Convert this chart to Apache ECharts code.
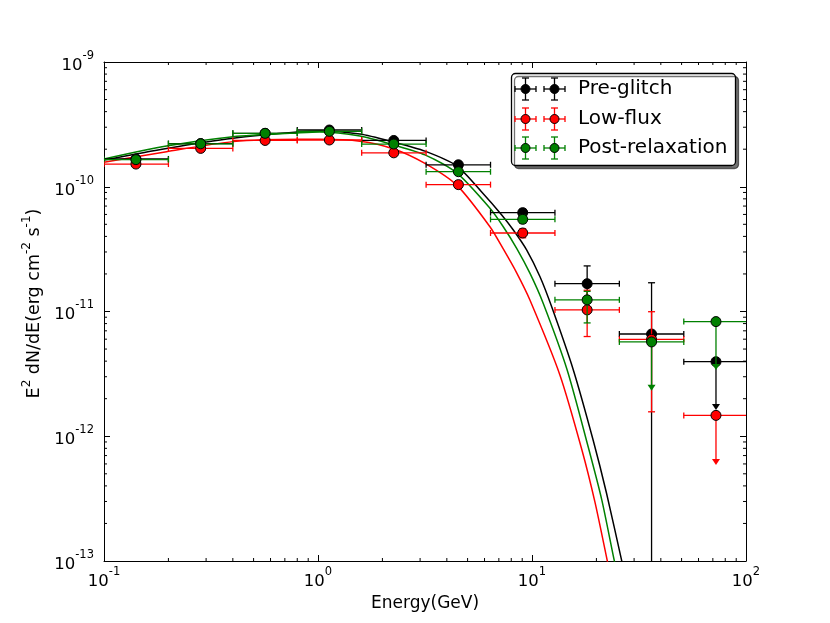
<!DOCTYPE html>
<html>
<head>
<meta charset="utf-8">
<title>Pulsar SED</title>
<script src="https://cdn.jsdelivr.net/npm/echarts@6/dist/echarts.min.js"></script>
<style>
html,body{margin:0;padding:0;background:#fff;}
#main{width:830px;height:623px;}
</style>
</head>
<body>
<div id="main"></div>
<script>
// energy bins (GeV)
var binLo = [0.1, 0.2, 0.4, 0.8, 1.6, 3.2, 6.4, 12.8, 25.6, 51.2];
var binHi = [0.2, 0.4, 0.8, 1.6, 3.2, 6.4, 12.8, 25.6, 51.2, 102.4];
var binE  = [0.141, 0.283, 0.566, 1.13, 2.26, 4.53, 9.05, 18.1, 36.2, 72.4];

// Pre-glitch
var preFlux  = [1.67e-10, 2.22e-10, 2.68e-10, 2.85e-10, 2.35e-10, 1.50e-10, 6.2e-11, 1.67e-11, 6.6e-12, 3.96e-12];
var preLow   = [1.61e-10, 2.15e-10, 2.60e-10, 2.75e-10, 2.25e-10, 1.42e-10, 5.8e-11, 1.02e-11, 0, null];
var preHigh  = [1.73e-10, 2.29e-10, 2.76e-10, 2.95e-10, 2.45e-10, 1.58e-10, 6.6e-11, 2.32e-11, 1.70e-11, null];
var preLimit = [null, null, null, null, null, null, null, null, null, 1.62e-12];

// Low-flux
var lowFlux  = [1.52e-10, 2.03e-10, 2.35e-10, 2.37e-10, 1.87e-10, 1.04e-10, 4.26e-11, 1.03e-11, 5.98e-12, 1.47e-12];
var lowLow   = [1.46e-10, 1.96e-10, 2.27e-10, 2.27e-10, 1.78e-10, 0.97e-10, 3.9e-11, 6.3e-12, 1.57e-12, null];
var lowHigh  = [1.58e-10, 2.10e-10, 2.43e-10, 2.47e-10, 1.96e-10, 1.11e-10, 4.6e-11, 1.48e-11, 9.96e-12, null];
var lowLimit = [null, null, null, null, null, null, null, null, null, 5.89e-13];

// Post-relaxation
var postFlux  = [1.65e-10, 2.21e-10, 2.68e-10, 2.78e-10, 2.20e-10, 1.32e-10, 5.48e-11, 1.24e-11, 5.7e-12, 8.3e-12];
var postLow   = [1.59e-10, 2.14e-10, 2.60e-10, 2.68e-10, 2.11e-10, 1.25e-10, 5.1e-11, 8.1e-12, null, null];
var postHigh  = [1.71e-10, 2.28e-10, 2.76e-10, 2.88e-10, 2.29e-10, 1.39e-10, 5.9e-11, 1.45e-11, null, null];
var postLimit = [null, null, null, null, null, null, null, null, 2.32e-12, 3.40e-12];

// fitted model curves
var preCurveE = [0.1, 0.196, 0.401, 0.824, 1.02, 1.57, 2.26, 3.16, 4.45, 5.82, 7.22, 8.18, 9.45, 10.9, 12.36, 15.6, 19.3, 22.3, 26.2, 30];
var preCurveF = [1.64e-10, 2.03e-10, 2.45e-10, 2.76e-10, 2.80e-10, 2.65e-10, 2.28e-10, 1.93e-10, 1.47e-10, 9.08e-11, 5.94e-11, 4.50e-11, 3.11e-11, 1.90e-11, 1.09e-11, 3.40e-12, 9.33e-13, 3.49e-13, 1.02e-13, 3.5e-14];
var lowCurveE = [0.1, 0.196, 0.401, 0.824, 1.02, 1.57, 2.26, 3.16, 4.45, 6.36, 7.34, 8.48, 9.79, 13.5, 17.1, 19.7, 22.6, 25.8];
var lowCurveF = [1.57e-10, 1.91e-10, 2.30e-10, 2.40e-10, 2.40e-10, 2.32e-10, 2.01e-10, 1.54e-10, 1.03e-10, 4.78e-11, 3.17e-11, 2.04e-11, 1.23e-11, 3.1e-12, 7.8e-13, 2.95e-13, 9.6e-14, 3.2e-14];
var postCurveE = [0.1, 0.196, 0.401, 0.824, 1.02, 1.57, 2.26, 3.16, 4.45, 6.36, 7.34, 8.48, 9.79, 11.29, 14.6, 18.3, 21.2, 24.2, 27.8];
var postCurveF = [1.67e-10, 2.12e-10, 2.52e-10, 2.71e-10, 2.75e-10, 2.55e-10, 2.16e-10, 1.80e-10, 1.29e-10, 6.72e-11, 4.78e-11, 3.21e-11, 2.02e-11, 1.16e-11, 3.40e-12, 8.24e-13, 3.08e-13, 1.02e-13, 3.36e-14];

// minor tick values
var xMinor = [0.2, 0.3, 0.4, 0.5, 0.6, 0.7, 0.8, 0.9, 2, 3, 4, 5, 6, 7, 8, 9, 20, 30, 40, 50, 60, 70, 80, 90];
var yMinor = [2e-13, 3e-13, 4e-13, 5e-13, 6e-13, 7e-13, 8e-13, 9e-13,
              2e-12, 3e-12, 4e-12, 5e-12, 6e-12, 7e-12, 8e-12, 9e-12,
              2e-11, 3e-11, 4e-11, 5e-11, 6e-11, 7e-11, 8e-11, 9e-11,
              2e-10, 3e-10, 4e-10, 5e-10, 6e-10, 7e-10, 8e-10, 9e-10];

var legendNames = ['Pre-glitch', 'Low-flux', 'Post-relaxation'];
var colors = ['#000000', '#ff0000', '#008000'];
var FONT = 'DejaVu Sans';

var sets = [
	{name: legendNames[0], color: colors[0], flux: preFlux, lo: preLow, hi: preHigh, lim: preLimit, cE: preCurveE, cF: preCurveF},
	{name: legendNames[1], color: colors[1], flux: lowFlux, lo: lowLow, hi: lowHigh, lim: lowLimit, cE: lowCurveE, cF: lowCurveF},
	{name: legendNames[2], color: colors[2], flux: postFlux, lo: postLow, hi: postHigh, lim: postLimit, cE: postCurveE, cF: postCurveF}
];

function pairs(a, b){
	return a.map(function(v, i){ return [v, b[i]]; });
}

function ln(x1, y1, x2, y2, color){
	return {type: 'line', shape: {x1: x1, y1: y1, x2: x2, y2: y2}, style: {stroke: color, lineWidth: 1.3}};
}

// error bars, caps and upper-limit arrows
function errRender(set){
	return function(params, api){
		var i = params.dataIndex;
		var cs = params.coordSys;
		var c = api.coord([binE[i], set.flux[i]]);
		var l = api.coord([binLo[i], set.flux[i]]);
		var r = api.coord([binHi[i], set.flux[i]]);
		var col = set.color;
		var kids = [];
		kids.push(ln(l[0], c[1], r[0], c[1], col));
		kids.push(ln(l[0], c[1] - 3, l[0], c[1] + 3, col));
		kids.push(ln(r[0], c[1] - 3, r[0], c[1] + 3, col));
		if (set.lim[i] != null) {
			var e = api.coord([binE[i], set.lim[i]]);
			kids.push(ln(c[0], c[1], c[0], e[1] - 4, col));
			kids.push({type: 'polygon', shape: {points: [[c[0] - 4, e[1] - 6], [c[0] + 4, e[1] - 6], [c[0], e[1]]]},
				style: {fill: col}});
		} else {
			var top = api.coord([binE[i], set.hi[i]])[1];
			var bot = set.lo[i] > 0 ? api.coord([binE[i], set.lo[i]])[1] : cs.y + cs.height + 10;
			kids.push(ln(c[0], top, c[0], bot, col));
			kids.push(ln(c[0] - 3.5, top, c[0] + 3.5, top, col));
			kids.push(ln(c[0] - 3.5, bot, c[0] + 3.5, bot, col));
		}
		return {type: 'group', children: kids};
	};
}

var series = [];
sets.forEach(function(s, k){
	series.push({
		type: 'line', name: s.name + ' model', data: pairs(s.cE, s.cF),
		showSymbol: false, smooth: 0.25, clip: true,
		lineStyle: {color: s.color, width: 1.5}, z: 2, silent: true
	});
});
sets.forEach(function(s, k){
	series.push({
		type: 'custom', name: s.name + ' err', data: pairs(binE, s.flux),
		renderItem: errRender(s), clip: true, z: 3 + k * 2, silent: true
	});
	series.push({
		type: 'scatter', name: s.name, data: pairs(binE, s.flux),
		symbol: 'circle', symbolSize: 10, z: 4 + k * 2, silent: true,
		itemStyle: {color: s.color, borderColor: '#000', borderWidth: 1, opacity: 1}
	});
});

// minor ticks on all four sides
series.push({
	type: 'custom', data: xMinor.map(function(v){ return [v, 1e-11]; }), silent: true, z: 10,
	renderItem: function(params, api){
		var cs = params.coordSys;
		var x = api.coord([api.value(0), 1e-11])[0];
		return {type: 'group', children: [
			{type: 'line', shape: {x1: x, y1: cs.y + cs.height, x2: x, y2: cs.y + cs.height - 3}, style: {stroke: '#000', lineWidth: 1}},
			{type: 'line', shape: {x1: x, y1: cs.y, x2: x, y2: cs.y + 3}, style: {stroke: '#000', lineWidth: 1}}
		]};
	}
});
series.push({
	type: 'custom', data: yMinor.map(function(v){ return [1, v]; }), silent: true, z: 10,
	renderItem: function(params, api){
		var cs = params.coordSys;
		var y = api.coord([1, api.value(1)])[1];
		return {type: 'group', children: [
			{type: 'line', shape: {x1: cs.x, y1: y, x2: cs.x + 3, y2: y}, style: {stroke: '#000', lineWidth: 1}},
			{type: 'line', shape: {x1: cs.x + cs.width, y1: y, x2: cs.x + cs.width - 3, y2: y}, style: {stroke: '#000', lineWidth: 1}}
		]};
	}
});

function powLabel(v){
	var p = Math.round(Math.log(v) / Math.LN10);
	return '{b|10}{s|' + p + '}';
}
var powRich = {
	b: {fontSize: 16.5, fontFamily: FONT, color: '#000', lineHeight: 24, verticalAlign: 'bottom'},
	s: {fontSize: 11.5, fontFamily: FONT, color: '#000', lineHeight: 12, verticalAlign: 'top'}
};

function logAxis(pos, min, max, showLabel, margin){
	return {
		type: 'log', logBase: 10, min: min, max: max, position: pos,
		axisLine: {show: true, lineStyle: {color: '#000', width: 1}},
		axisTick: {show: true, inside: true, length: 6, lineStyle: {color: '#000', width: 1}},
		splitLine: {show: false},
		axisLabel: {show: showLabel, formatter: powLabel, rich: powRich, margin: margin},
		silent: true
	};
}

var xBottom = logAxis('bottom', 0.1, 100, true, 5);
xBottom.name = 'Energy(GeV)';
xBottom.nameLocation = 'middle';
xBottom.nameGap = 32;
xBottom.nameTextStyle = {fontSize: 17, fontFamily: FONT, color: '#000'};

var yLeft = logAxis('left', 1e-13, 1e-9, true, 10);
yLeft.name = '{a|E}{s|2}{a| dN/dE(erg cm}{s|-2}{a| s}{s|-1}{a|)}';
yLeft.nameLocation = 'middle';
yLeft.nameRotate = 90;
yLeft.nameGap = 58;
yLeft.nameTextStyle = {
	padding: [0, 0, 0, 16],
	rich: {
		a: {fontSize: 17.5, fontFamily: FONT, color: '#000', lineHeight: 22, verticalAlign: 'bottom'},
		s: {fontSize: 12, fontFamily: FONT, color: '#000', lineHeight: 12, verticalAlign: 'top'}
	}
};

// legend drawn by hand: two errorbar markers per entry like matplotlib
var legendKids = [{
	type: 'rect', shape: {x: 511.5, y: 73.5, width: 224, height: 92, r: 4},
	style: {fill: '#fff', stroke: '#000', lineWidth: 1.3, shadowColor: 'rgba(0,0,0,0.55)', shadowOffsetX: 3, shadowOffsetY: 3, shadowBlur: 0}
}];
var rowY = [89, 119, 148];
legendNames.forEach(function(n, k){
	var y = rowY[k], col = colors[k];
	[525.5, 554.5].forEach(function(x){
		legendKids.push(ln(x - 10.5, y, x + 10.5, y, col));
		legendKids.push(ln(x - 10.5, y - 3, x - 10.5, y + 3, col));
		legendKids.push(ln(x + 10.5, y - 3, x + 10.5, y + 3, col));
		legendKids.push(ln(x, y - 11, x, y + 11, col));
		legendKids.push(ln(x - 3.5, y - 11, x + 3.5, y - 11, col));
		legendKids.push(ln(x - 3.5, y + 11, x + 3.5, y + 11, col));
		legendKids.push({type: 'circle', shape: {cx: x, cy: y, r: 4.5}, style: {fill: col, stroke: '#000', lineWidth: 1}});
	});
	legendKids.push({type: 'text', style: {text: n, x: 578, y: y, font: '20px "DejaVu Sans"', fill: '#000', align: 'left', verticalAlign: 'middle'}});
});

var myChart = echarts.init(document.getElementById('main'));
var option = {
	backgroundColor: '#fff',
	animation: false,
	grid: {left: 104, right: 84, top: 62, bottom: 62, containLabel: false},
	xAxis: [xBottom, logAxis('top', 0.1, 100, false, 5)],
	yAxis: [yLeft, logAxis('right', 1e-13, 1e-9, false, 10)],
	series: series,
	graphic: [{type: 'group', z: 100, children: legendKids}]
};
myChart.setOption(option);
</script>
</body>
</html>
